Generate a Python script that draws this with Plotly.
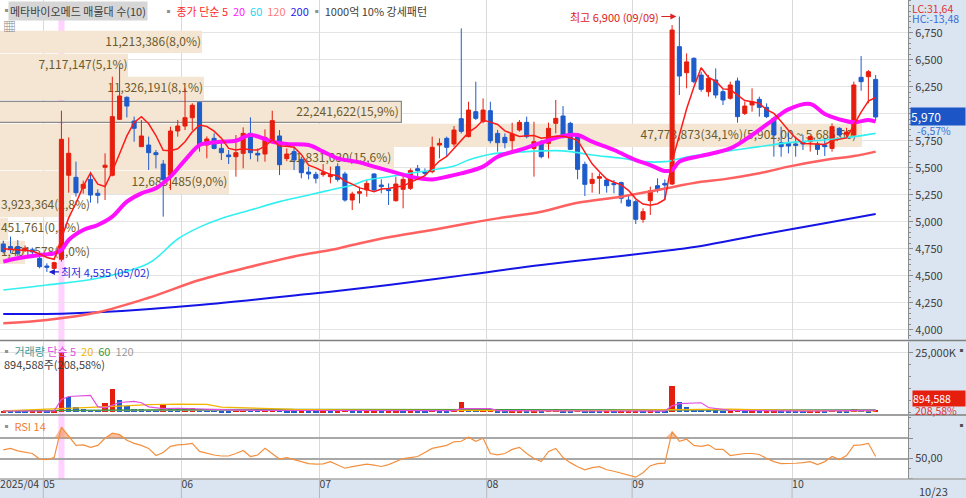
import plotly.graph_objects as go

# 메타바이오메드 일봉 (2025/04/23 ~ 10/23), x = 봉 번호
opens = [4794, 4770, 4770, 4740, 4740, 4661, 4590, 4568, 4652, 5430,
         5411, 5309, 5392, 5263, 5504, 5430, 5948, 6152, 5932, 5695,
         5710, 5639, 5534, 5430, 5840, 5886, 5963, 6105, 5710, 5772,
         5679, 5618, 5602, 5633, 5818, 5633, 5627, 5757, 5794, 5584,
         5649, 5578, 5460, 5439, 5436, 5417, 5510, 5442, 5201, 5263,
         5294, 5442, 5340, 5300, 5195, 5300, 5309, 5491, 5463, 5463,
         5710, 5772, 5720, 5954, 5788, 6019, 5926, 6028, 5818, 5781,
         5750, 5849, 5920, 5679, 5720, 5726, 5911, 5979, 5911, 5788,
         5531, 5355, 5402, 5386, 5355, 5362, 5201, 5186, 5022, 5195,
         5334, 5355, 5349, 6621, 6380, 6513, 6358, 6204, 6312, 6204,
         6143, 6303, 6003, 6081, 6133, 6059, 5957, 5732, 5726, 5720,
         5741, 5741, 5720, 5710, 5679, 5865, 5810, 5803, 6337, 6343,
         6318]
highs = [4825, 4862, 4830, 4780, 4760, 4692, 4615, 4630, 6028, 5781,
         5556, 5380, 5463, 5300, 5633, 6343, 6436, 6160, 5973, 5942,
         5788, 5664, 5571, 5880, 5942, 6235, 6096, 6110, 5790, 5818,
         5757, 5664, 5803, 5874, 5966, 5679, 5855, 6028, 5849, 5680,
         5695, 5602, 5510, 5463, 5534, 5510, 5541, 5463, 5278, 5325,
         5386, 5448, 5392, 5355, 5417, 5440, 5494, 5525, 5494, 5788,
         5772, 5788, 5886, 6790, 6111, 6297, 6142, 6111, 5850, 5818,
         5917, 5942, 5973, 5926, 5757, 5917, 6127, 6071, 5925, 5818,
         5556, 5454, 5448, 5402, 5386, 5371, 5238, 5201, 5124, 5325,
         5402, 5392, 6821, 6900, 6559, 6522, 6389, 6358, 6420, 6225,
         6297, 6334, 6112, 6235, 6158, 6096, 5973, 5880, 5818, 5788,
         5803, 5800, 5741, 5772, 5911, 5874, 5870, 6297, 6534, 6405,
         6358]
lows = [4707, 4707, 4646, 4720, 4700, 4568, 4535, 4560, 4630, 5269,
        5232, 5260, 5176, 5170, 5201, 5420, 5942, 5966, 5741, 5695,
        5479, 5494, 5047, 5294, 5788, 5849, 5849, 5649, 5587, 5670,
        5571, 5534, 5417, 5494, 5578, 5556, 5556, 5741, 5432, 5560,
        5479, 5402, 5392, 5355, 5417, 5355, 5371, 5186, 5108, 5170,
        5232, 5278, 5263, 5155, 5186, 5124, 5294, 5417, 5420, 5448,
        5587, 5602, 5695, 5818, 5781, 5942, 5911, 5726, 5649, 5679,
        5664, 5834, 5772, 5417, 5587, 5587, 5818, 5772, 5664, 5393,
        5238, 5269, 5257, 5269, 5263, 5170, 5139, 4979, 4991, 5062,
        5269, 5201, 5340, 6173, 6235, 6281, 6204, 6158, 6143, 6081,
        6130, 5917, 5988, 6019, 5973, 5960, 5602, 5602, 5633, 5602,
        5664, 5649, 5618, 5609, 5649, 5788, 5790, 5794, 6213, 6096,
        5942]
closes = [4723, 4740, 4708, 4755, 4720, 4584, 4578, 4621, 5763, 5634,
          5269, 5346, 5247, 5244, 5523, 5973, 6164, 6071, 5865, 5794,
          5639, 5621, 5392, 5840, 5886, 5963, 6078, 5710, 5766, 5679,
          5639, 5602, 5639, 5818, 5639, 5618, 5781, 5936, 5528, 5627,
          5571, 5454, 5442, 5402, 5454, 5436, 5392, 5201, 5257, 5278,
          5355, 5294, 5325, 5288, 5349, 5392, 5473, 5473, 5448, 5689,
          5726, 5689, 5849, 5837, 6034, 5957, 6034, 5750, 5732, 5732,
          5812, 5920, 5788, 5741, 5602, 5865, 5957, 5788, 5670, 5485,
          5346, 5392, 5417, 5334, 5343, 5217, 5146, 5022, 5093, 5287,
          5288, 5340, 6775, 6349, 6480, 6297, 6226, 6328, 6173, 6127,
          6266, 5973, 6071, 6111, 6059, 5973, 5803, 5695, 5701, 5707,
          5720, 5788, 5670, 5695, 5880, 5803, 5830, 6266, 6297, 6389,
          5970]
# 거래량 (천주)
volumes = [600, 520, 480, 450, 500, 750, 650, 700,
           24700, 6500, 2100, 1300, 1000, 900, 4000, 9600,
           5100, 2600, 1500, 1200, 1000, 900, 3100, 1800,
           1400, 1600, 1900, 1500, 1100, 900, 800, 700,
           1200, 1400, 1100, 900, 1300, 1500, 1400, 800,
           700, 750, 600, 550, 650, 600, 700, 900,
           700, 550, 600, 650, 500, 550, 700, 650,
           750, 500, 450, 1100, 800, 600, 900, 4450,
           1200, 900, 1000, 1100, 700, 550, 650, 800,
           600, 700, 650, 900, 1400, 800, 600, 900,
           750, 500, 450, 480, 400, 500, 550, 700,
           600, 800, 500, 450, 11200, 4450, 2100, 1500,
           1100, 900, 800, 600, 700, 900, 600, 650,
           500, 550, 800, 700, 500, 450, 400, 550,
           600, 450, 1100, 700, 500, 1200, 900, 429,
           894.588]

# 종가 이동평균
ma5 = [4750, 4745, 4735, 4735, 4729, 4701, 4669, 4652, 4853, 5036,
       5173, 5327, 5452, 5348, 5326, 5467, 5630, 5795, 5919, 5973,
       5907, 5798, 5662, 5657, 5676, 5740, 5832, 5895, 5881, 5839,
       5774, 5679, 5665, 5675, 5667, 5663, 5699, 5758, 5700, 5698,
       5689, 5623, 5524, 5499, 5465, 5438, 5425, 5377, 5348, 5313,
       5297, 5277, 5302, 5308, 5322, 5330, 5365, 5395, 5427, 5495,
       5562, 5605, 5680, 5758, 5827, 5873, 5942, 5922, 5901, 5841,
       5812, 5789, 5797, 5799, 5773, 5783, 5791, 5791, 5776, 5753,
       5649, 5536, 5462, 5395, 5366, 5341, 5291, 5212, 5164, 5153,
       5167, 5206, 5557, 5808, 6046, 6248, 6425, 6336, 6301, 6230,
       6224, 6173, 6122, 6110, 6096, 6037, 6003, 5928, 5846, 5776,
       5725, 5722, 5717, 5716, 5751, 5767, 5776, 5895, 6015, 6117,
       6150]
ma20_idx = [0, 2, 5, 7, 8, 9, 11, 13, 15, 17, 19, 21, 23, 25, 27, 28, 30, 32, 34, 37,
            39, 42, 44, 46, 49, 51, 54, 56, 59, 61, 63, 66, 68, 71, 74, 77, 79, 81, 84, 87,
            89, 91, 92, 93, 96, 100, 103, 106, 108, 111, 113, 115, 117, 119, 120]
ma20 = [4630, 4661, 4692, 4707, 4738, 4831, 4923, 4970, 5047, 5186, 5263, 5309, 5417, 5571,
        5710, 5726, 5741, 5750, 5803, 5741, 5720, 5710, 5649, 5587, 5550, 5510, 5454, 5417,
        5392, 5417, 5448, 5510, 5602, 5664, 5732, 5794, 5803, 5741, 5664, 5571, 5525, 5470,
        5479, 5556, 5610, 5679, 5803, 5948, 6040, 6090, 5997, 5948, 5920, 5942, 5926]
ma60_idx = [0, 6, 13, 20, 24, 27, 30, 34, 38, 42, 45, 48, 50, 53, 56,
            59, 62, 64, 67, 72, 76, 78, 81, 85, 88, 91, 94, 99, 104, 108, 113, 117, 120]
ma60 = [4368, 4414, 4476, 4615, 4840, 4950, 5030, 5108, 5186,
        5247, 5294, 5340, 5386, 5417, 5448, 5479, 5516, 5571, 5625, 5649, 5658, 5649, 5618,
        5587, 5556, 5556, 5600, 5649, 5695, 5732, 5757, 5788, 5818]
ma120_idx = [0, 6, 13, 20, 27, 34, 41, 45, 48, 53, 59, 64, 68, 74, 79, 85, 90, 96, 99,
             104, 108, 113, 117, 120]
ma120 = [4059, 4090, 4161, 4296, 4460, 4583, 4692, 4738, 4784, 4856, 4923, 4985, 5031,
         5093, 5176, 5232, 5294, 5370, 5392, 5448, 5510, 5571, 5608, 5649]
ma200_idx = [0, 8, 13, 27, 42, 45, 53, 64, 74, 85, 92, 96, 104, 113, 120]
ma200 = [4146, 4148, 4161, 4229, 4331, 4352, 4414, 4510, 4599, 4683, 4738, 4775, 4877, 4985, 5071]

# 거래량 이동평균 (천주)
vma5_idx = [0, 7, 8, 9, 12, 13, 14, 16, 18, 19, 20, 22, 24, 30, 40, 50, 60, 62, 63, 67,
            68, 70, 80, 90, 91, 92, 93, 96, 97, 100, 110, 120]
vma5 = [550, 580, 5400, 6640, 7120, 2360, 1860, 4120, 4560, 4000, 2280, 1500, 1700, 1100,
        750, 600, 600, 700, 1500, 1500, 700, 650, 550, 500, 520, 2700, 3600, 4000, 2000,
        800, 500, 800]
vma20_idx = [0, 8, 12, 16, 20, 24, 28, 30, 34, 40, 50, 60, 70, 80, 92, 100, 111, 120]
vma20 = [600, 1800, 2100, 2600, 3200, 3400, 3300, 2200, 1700, 1200, 900, 750, 800, 650,
         1100, 1300, 700, 600]
vma60_idx = [0, 8, 20, 40, 60, 68, 80, 92, 100, 110, 120]
vma60 = [650, 700, 1050, 1250, 1200, 1050, 950, 1000, 1050, 1050, 900]
vma120_idx = [0, 40, 80, 120]
vma120 = [700, 900, 1100, 1000]

# RSI 14
rsi = [58.5, 60, 57.5, 56, 55, 49.5, 49, 51, 81, 72,
       63, 63.5, 61, 63, 70, 75, 73.5, 68, 65, 63,
       60, 53, 56, 62, 63.5, 64, 65, 57, 55, 53.5,
       52.5, 52.5, 55, 58, 52, 53.5, 60, 55, 49.5, 51,
       49, 47.5, 45, 44.5, 44.8, 47, 44, 40.5, 42, 43,
       44.5, 43.5, 42.2, 44, 47, 50, 51, 52, 56, 60,
       61.5, 63, 66.5, 67, 71, 67, 70, 55, 53.6, 55,
       59, 61, 55, 50, 47, 57, 60, 51, 46, 42,
       39, 41, 42, 39, 37.5, 35.6, 33, 31.7, 36, 43,
       45, 45.5, 76.5, 67, 69, 63, 62, 63.5, 59, 59,
       53, 54, 55, 55, 54, 50, 47, 45, 45, 45.4,
       46, 47, 44, 47, 52, 49, 53, 63, 63.5, 65,
       52]

month_pos = [-0.44, 5.5, 24.5, 43.5, 66.5, 86.5, 108.5]
month_labels = ['2025/04', '05', '06', '07', '08', '09', '10']
signal_idx = 8

# 매물대 (10구간)
bin_low = [4603.6, 4820.0, 5036.4, 5252.8, 5469.2, 5685.6, 5902.0, 6118.4, 6334.8, 6551.2]
bin_step = 216.4
bin_vol = [1401578, 451761, 3923364, 12683485, 21831030, 47773873, 22241622, 11326191,
           7117147, 11213386]
bin_pct = [1.0, 0.3, 2.8, 9.0, 15.6, 34.1, 15.9, 8.1, 5.1, 8.0]

RED = '#e61e0e'
BLUE = '#1e5ccc'
W, H = 966, 498
PW, PH = 908, 479
PROFILE_MAX = 50.3e6


def px(x):
    return x / PW


def py(y):
    return (PH - y) / PH


def kr(v):
    # 한국식 표기: 천 단위 쉼표, 소수점도 쉼표
    return f'{v:,.2f}'.replace('.', ',')


idx = list(range(len(closes)))
last = len(closes) - 1
cur_bin = max(i for i, b in enumerate(bin_low) if b <= closes[last])
top_bin = bin_vol.index(max(bin_vol))

fig = go.Figure()

# 매물대 막대
fig.add_trace(go.Bar(
    x=bin_vol, y=[b + bin_step / 2 for b in bin_low], orientation='h', base=0,
    width=bin_step * 0.93, xaxis='x', yaxis='y',
    marker=dict(color='#f4e6d2',
                line=dict(color=['#8c8c8c' if i == cur_bin else '#f4e6d2' for i in range(len(bin_low))],
                          width=1.2)),
    hoverinfo='skip'))

labels, lx, lpos = [], [], []
for i, (v, p) in enumerate(zip(bin_vol, bin_pct)):
    t = f'{v:,}({p:.1f}%)'.replace('.', ',')
    if i == top_bin:
        t += f'({kr(bin_low[i] + bin_step)} ~ {kr(bin_low[i])})'
    labels.append(t)
    if v / PROFILE_MAX * PW > 110:
        lx.append(v * 0.993)
        lpos.append('middle left')
    else:
        lx.append(PROFILE_MAX * 0.001)
        lpos.append('middle right')
fig.add_trace(go.Scatter(
    x=lx, y=[b + bin_step / 2 for b in bin_low], mode='text', text=labels,
    textposition=lpos, textfont=dict(color='#6b5a2e', size=12),
    xaxis='x', yaxis='y', hoverinfo='skip'))

# 이동평균선
fig.add_trace(go.Scatter(x=ma200_idx, y=ma200, mode='lines', line=dict(color='#1414e6', width=2, shape='spline'),
                         xaxis='x2', yaxis='y'))
fig.add_trace(go.Scatter(x=ma120_idx, y=ma120, mode='lines', line=dict(color='#ff6060', width=2.5, shape='spline'),
                         xaxis='x2', yaxis='y'))
fig.add_trace(go.Scatter(x=ma60_idx, y=ma60, mode='lines', line=dict(color='#33f0f0', width=1.6, shape='spline'),
                         xaxis='x2', yaxis='y'))
fig.add_trace(go.Scatter(x=ma20_idx, y=ma20, mode='lines', line=dict(color='#ff10ff', width=4, shape='spline'),
                         xaxis='x2', yaxis='y'))

fig.add_trace(go.Candlestick(
    x=idx, open=opens, high=highs, low=lows, close=closes, xaxis='x2', yaxis='y',
    increasing=dict(line=dict(color=RED, width=1), fillcolor=RED),
    decreasing=dict(line=dict(color=BLUE, width=1), fillcolor=BLUE),
    whiskerwidth=0, hoverinfo='skip'))

fig.add_trace(go.Scatter(x=idx, y=ma5, mode='lines', line=dict(color='#ff1a1a', width=1.5),
                         xaxis='x2', yaxis='y'))

# 거래량
vol_colors = [RED if i == 0 or volumes[i] >= volumes[i - 1] else BLUE for i in idx]
fig.add_trace(go.Bar(x=idx, y=volumes, marker=dict(color=vol_colors, line=dict(width=0)),
                     width=0.75, xaxis='x3', yaxis='y2', hoverinfo='skip'))
for xs, ys, col in [(vma120_idx, vma120, '#9a9a9a'), (vma60_idx, vma60, '#3a9a3a'),
                    (vma20_idx, vma20, '#f2b400'), (vma5_idx, vma5, '#e050e0')]:
    fig.add_trace(go.Scatter(x=xs, y=ys, mode='lines', line=dict(color=col, width=1.2),
                             xaxis='x3', yaxis='y2'))

# RSI
fig.add_trace(go.Scatter(x=idx, y=[70] * len(idx), mode='lines', line=dict(width=0),
                         xaxis='x4', yaxis='y3'))
fig.add_trace(go.Scatter(x=idx, y=[max(v, 70) for v in rsi], mode='lines', line=dict(width=0),
                         fill='tonexty', fillcolor='rgba(240,140,80,0.55)', xaxis='x4', yaxis='y3'))
fig.add_trace(go.Scatter(x=idx, y=rsi, mode='lines', line=dict(color='#f39040', width=1.2),
                         xaxis='x4', yaxis='y3'))

grid_x = dict(range=[-0.45, 124.45], tickmode='array', tickvals=month_pos, showgrid=True,
              gridcolor='#d9d9d9', gridwidth=1, zeroline=False, showticklabels=False,
              ticks='', fixedrange=True)
tickfont = dict(size=11, color='#404040')
yax = dict(side='right', ticks='outside', ticklen=4, tickcolor='#8c8c8c', showline=True,
           linecolor='#8c8c8c', zeroline=False, tickfont=tickfont, fixedrange=True)

strip = '#dbe5f1'
shapes = [
    dict(type='rect', xref='paper', yref='paper', x0=1, x1=W / PW, y0=(PH - H) / PH, y1=1,
         fillcolor=strip, line=dict(width=0), layer='below'),
    dict(type='rect', xref='paper', yref='paper', x0=0, x1=W / PW, y0=(PH - H) / PH, y1=0,
         fillcolor=strip, line=dict(width=0), layer='below'),
    dict(type='rect', xref='x2', yref='paper', x0=signal_idx - 0.42, x1=signal_idx + 0.42,
         y0=0, y1=py(13), fillcolor='#ffd2ff', line=dict(width=0), layer='below'),
    dict(type='line', xref='paper', yref='paper', x0=0, x1=W / PW, y0=py(340.5), y1=py(340.5),
         line=dict(color='#808080', width=1.5)),
    dict(type='line', xref='paper', yref='paper', x0=0, x1=W / PW, y0=py(415), y1=py(415),
         line=dict(color='#808080', width=1.5)),
    dict(type='line', xref='paper', yref='paper', x0=0, x1=W / PW, y0=0, y1=0,
         line=dict(color='#a8a8a8', width=1.5)),
]
for m in month_pos[1:]:
    shapes.append(dict(type='line', xref='x4', yref='paper', x0=m, x1=m, y0=(PH - H) / PH, y1=0,
                       line=dict(color='#b8b8b8', width=1)))

ann = []


def label(text, x, y, color='#404040', size=11, **kw):
    d = dict(text=text, x=px(x), y=py(y), xref='paper', yref='paper', xanchor='left',
             yanchor='top', showarrow=False, font=dict(color=color, size=size), borderpad=0)
    d.update(kw)
    ann.append(d)


label('▪', 0, 1, '#909090')
label('메타바이오메드 매물대 수(10)', 8, 1, '#404040', bgcolor='#d6d6d6', borderpad=1)
label("▪ <span style='color:#ff2a2a'>종가 단순 5</span>  <span style='color:#ff19ff'>20</span>  "
      "<span style='color:#19d8ee'>60</span>  <span style='color:#ff7a7a'>120</span>  "
      "<span style='color:#2222ee'>200</span> ▪ <span style='color:#404040'>1000억 10% 강세패턴</span>",
      162, 2, '#909090')
label('▦', 2, 15, '#8a8a8a', size=13)
label('LC:31,64', 911, 0, '#e03030', size=10.5)
label('HC:-13,48', 911, 10, '#3a6fd8', size=10.5)
label('-6,57%', 916, 122, '#3a6fd8', size=10.5)
label("▪ <span style='color:#3a9a9a'>거래량</span> <span style='color:#e050e0'>단순 5</span>  "
      "<span style='color:#f2b400'>20</span>  <span style='color:#3a9a3a'>60</span>  "
      "<span style='color:#9a9a9a'>120</span>", 0, 342, '#909090')
label(f'{volumes[last] * 1000:,.0f}주(208,58%)', 3, 355, '#404040')
label(f'{volumes[last] * 1000:,.0f}', 912, 390, '#ffffff', size=10.5, bgcolor=RED, width=52, align='left')
label('208,58%', 914, 402, '#e03030', size=10.5)
label("▪ <span style='color:#f08030'>RSI 14</span>", 0, 417, '#909090')
label('10/23', 918, 482, '#404040')
label('▪', 955, 341, '#505050')
label('▪', 955, 416, '#505050')

ann.append(dict(text=f'{closes[last]:,}', x=px(910), xref='paper', y=closes[last], yref='y',
                xanchor='left', yanchor='middle', showarrow=False, bgcolor='#1c56c6',
                font=dict(color='white', size=12), width=54, align='left', borderpad=0))
hi_i = highs.index(max(highs))
lo_i = lows.index(min(lows))
ann.append(dict(text=f'최고 {highs[hi_i]:,} (09/09)', x=hi_i, y=highs[hi_i], xref='x2', yref='y',
                showarrow=True, arrowhead=2, arrowsize=1, arrowwidth=1.2, arrowcolor='#e02020',
                ax=-18, ay=0, xanchor='right', standoff=3, font=dict(color='#e02020', size=11)))
ann.append(dict(text=f'최저 {lows[lo_i]:,} (05/02)', x=lo_i, y=lows[lo_i], xref='x2', yref='y',
                showarrow=True, arrowhead=2, arrowsize=1, arrowwidth=1.2, arrowcolor='#1a1ad0',
                ax=12, ay=0, xanchor='left', standoff=2, font=dict(color='#2a2ae0', size=11)))

fig.update_layout(
    width=W, height=H, margin=dict(l=0, r=W - PW, t=0, b=H - PH),
    paper_bgcolor='white', plot_bgcolor='white', showlegend=False, hovermode=False,
    font=dict(family='Noto Sans CJK KR', size=11, color='#404040'),
    barmode='overlay', bargap=0, boxgap=0.2,
    xaxis=dict(domain=[0, 1], range=[0, PROFILE_MAX], visible=False, anchor='y', fixedrange=True),
    xaxis2=dict(grid_x, overlaying='x', anchor='y', rangeslider=dict(visible=False)),
    xaxis3=dict(grid_x, anchor='y2'),
    xaxis4=dict(grid_x, anchor='y3', showticklabels=True, ticktext=month_labels,
                ticklabelposition='outside right', ticklabelstandoff=-3,
                tickfont=dict(size=10.5, color='#404040')),
    yaxis=dict(yax, domain=[py(339), 1], range=[3914, 7053], anchor='x',
               tickvals=list(range(4000, 6751, 250)), tickformat=',d', showgrid=True,
               gridcolor='#e4e4e4',
               minor=dict(ticks='outside', ticklen=2, tick0=0, dtick=50, tickcolor='#8c8c8c',
                          showgrid=False)),
    yaxis2=dict(yax, domain=[py(414), py(342)], range=[-713, 29488], anchor='x3',
                tickvals=[25000], ticktext=['25,000K'], showgrid=True, gridcolor='#e0e0e0',
                minor=dict(ticks='outside', ticklen=2, tick0=0, dtick=5000, tickcolor='#8c8c8c',
                           showgrid=False)),
    yaxis3=dict(yax, domain=[0, py(416)], range=[29.9, 91.86], anchor='x4',
                tickvals=[30, 50, 70], ticktext=['', '50,00', ''], showgrid=True,
                gridcolor='#a8a8a8', gridwidth=1.5,
                minor=dict(ticks='outside', ticklen=2, tick0=0, dtick=10, tickcolor='#8c8c8c',
                           showgrid=False)),
    shapes=shapes, annotations=ann,
)

fig.write_html('out.html', config={'displayModeBar': False},
               post_script="document.body.style.margin='0';document.body.style.overflow='hidden';")
